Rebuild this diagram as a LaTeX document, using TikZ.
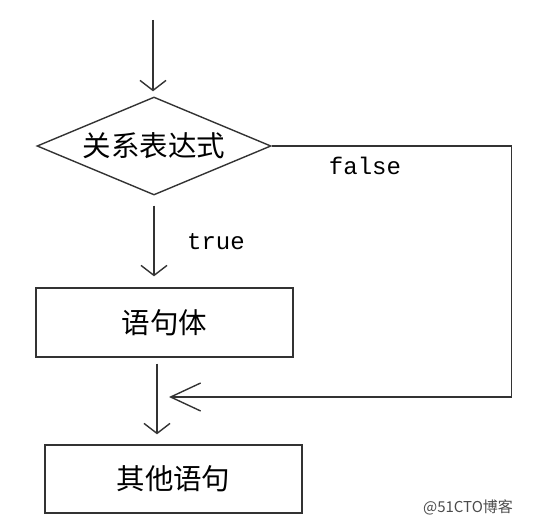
\documentclass[tikz,border=0pt]{standalone}
\usepackage{fontspec}
\usetikzlibrary{shapes.geometric,arrows.meta}
\newfontfamily\cjk{Noto Sans CJK SC}
\setmonofont{Liberation Mono}
\NewDocumentCommand\BigText{m}{\fontsize{28.5}{31}\selectfont\cjk #1}

\begin{document}
\begin{tikzpicture}[x=1pt,y=-1pt,
  line/.style={black!80,line width=1.4pt},
  flow/.style={line,-{Straight Barb[length=10pt,width=26pt]}},
  back/.style={line,-{Straight Barb[length=30pt,width=28pt]}},
  stmt/.style={draw=black!80,line width=1.4pt,minimum width=257pt,inner sep=0pt},
  word/.style={text=black,font=\fontsize{24}{26}\selectfont\ttfamily}]
\useasboundingbox (0,0) rectangle (558,524);
\node[diamond,draw=black!80,line width=1.4pt,inner sep=0pt,shape aspect=2.39,
  minimum width=234pt,minimum height=98pt] (cond) at (154,146) {\BigText{关系表达式}};
\node[stmt,minimum height=69pt] (body) at (164.5,322.5) {\BigText{语句体}};
\node[stmt,minimum height=68pt] (other) at (173.5,479) {\BigText{其他语句}};
\coordinate (start) at (153,20);
\coordinate (join) at (169,397);
\draw[flow,shorten >=5pt] (start) -- (start |- cond.north);
\draw[flow,shorten <=10pt,shorten >=11pt] (cond.south) -- (cond.south |- body.north);
\draw[flow,shorten <=6pt,shorten >=10pt] ([xshift=-7.5pt]body.south) -- ([xshift=-7.5pt]body.south |- other.north);
\draw[back] (cond.east) -- ++(240,0) |- (join);
\node[word] (no) at (365,166) {false};
\node[word] (yes) at (216,242) {true};
%\node at (468,520) {url};
\node[text=black!70,font=\fontsize{15}{17}\selectfont\cjk] (mark) at (468,507) {@51CTO博客};
\end{tikzpicture}
\end{document}
